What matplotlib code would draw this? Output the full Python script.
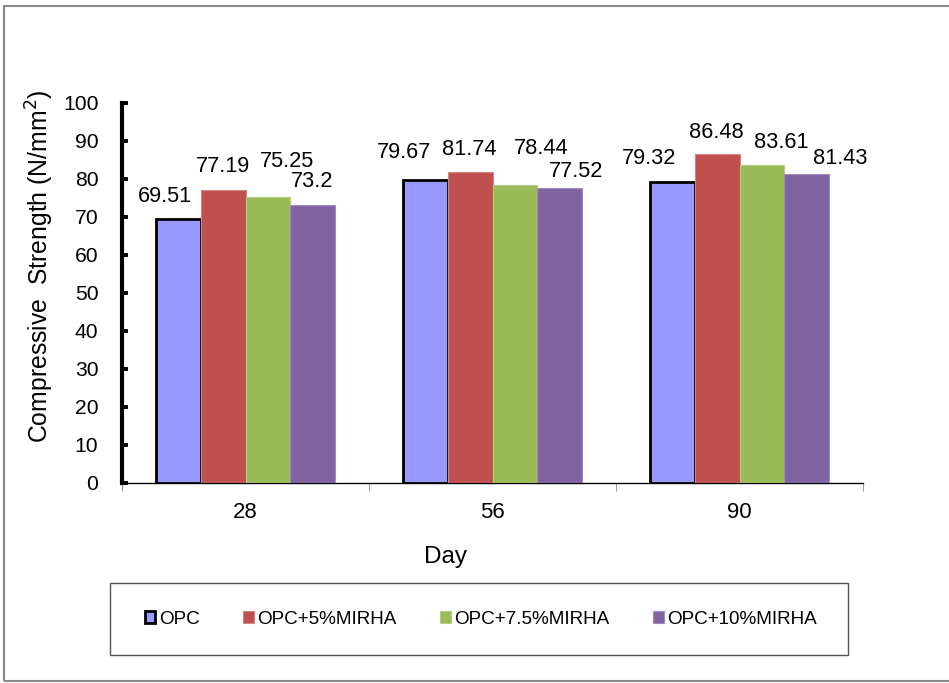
import numpy as np
import matplotlib
matplotlib.use("Agg")
import matplotlib.pyplot as plt
from matplotlib.patches import Rectangle

plt.rcParams['font.family'] = ['Liberation Sans', 'DejaVu Sans']

days = ['28', '56', '90']
series = ['OPC', 'OPC+5%MIRHA', 'OPC+7.5%MIRHA', 'OPC+10%MIRHA']
opc = [69.51, 79.67, 79.32]
mirha5 = [77.19, 81.74, 86.48]
mirha75 = [75.25, 78.44, 83.61]
mirha10 = [73.2, 77.52, 81.43]

colors = ['#9999FF', '#C0504D', '#9BBB59', '#8064A2']
edges = ['black', '#D08583', '#B3CC85', '#A08BBC']
edge_w = [2.0, 0.8, 0.8, 0.8]

# hand-placed label offsets in pixels (dx, dy) from each bar top
label_off = [
    [(-13, 22), (-21, 28), (-23, 23)],
    [(0, 23), (-1, 23), (-1, 22)],
    [(19, 36), (26, 36), (19, 23)],
    [(-1, 23), (16, 17), (33, 15)],
]

fig = plt.figure(figsize=(9.49, 6.83), dpi=100)
ax = fig.add_axes([122 / 949, 200 / 683, 741 / 949, 380 / 683])

x = np.arange(len(days))
w = 0.182
for i, vals in enumerate([opc, mirha5, mirha75, mirha10]):
    bars = ax.bar(x + (i - 1.5) * w, vals, w, color=colors[i],
                  edgecolor=edges[i], linewidth=edge_w[i], label=series[i],
                  zorder=3)
    for j, b in enumerate(bars):
        dx, dy = label_off[i][j]
        ax.annotate(f"{vals[j]:g}", (b.get_x() + b.get_width() / 2, b.get_height()),
                    xytext=(dx, dy), textcoords='offset pixels',
                    ha='center', va='center', fontsize=15.7)

ax.set_xlim(-0.5, 2.5)
ax.set_ylim(0, 100)
ax.set_yticks(np.arange(0, 101, 10))
ax.tick_params(axis='y', direction='in', length=4, width=2.8, pad=17,
               labelsize=15.2)
ax.set_xticks(x)
ax.set_xticklabels(days)
ax.set_xticks([-0.5, 0.5, 1.5, 2.5], minor=True)
ax.tick_params(axis='x', which='major', length=0, pad=14, labelsize=16)
ax.tick_params(axis='x', which='minor', direction='out', length=6,
               width=0.8, color='#999999')
for s in ['top', 'right']:
    ax.spines[s].set_visible(False)
ax.spines['left'].set_linewidth(3.0)
ax.spines['bottom'].set_linewidth(1.0)

fig.text(40 / 949, 1 - 266 / 683, 'Compressive  Strength (N/mm$^2$)',
         rotation=90, ha='center', va='center', fontsize=17.8)
fig.text(446 / 949, 1 - 557 / 683, 'Day', ha='center', va='center',
         fontsize=17.5)

# legend box and outer frame
fig.patches.append(Rectangle((110 / 949, 1 - 655 / 683), 738 / 949, 72 / 683,
                             transform=fig.transFigure, fill=False,
                             edgecolor='#555555', linewidth=1.0))
fig.patches.append(Rectangle((4 / 949, 2 / 683), 1.0, 675 / 683,
                             transform=fig.transFigure, fill=False,
                             edgecolor='#888888', linewidth=1.5))
fig.legend(loc='center', bbox_to_anchor=(481 / 949, 1 - 619 / 683), ncol=4,
           frameon=False, fontsize=13.6, handlelength=0.55, handleheight=0.55,
           handletextpad=0.2, columnspacing=2.3)

fig.savefig('out.png', dpi=100)
